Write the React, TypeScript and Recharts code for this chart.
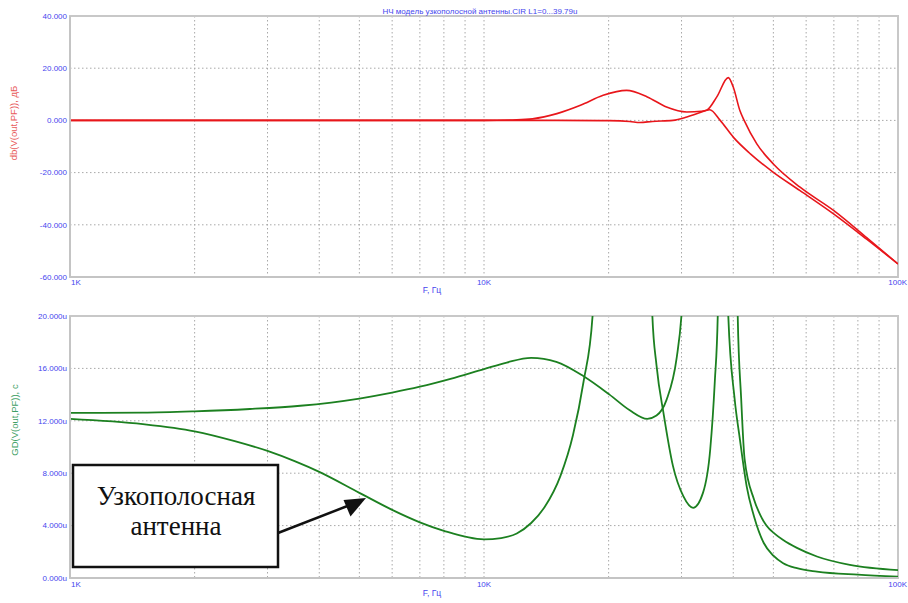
import React from "react";
import { LineChart, Line, XAxis, YAxis, CartesianGrid, ReferenceArea } from "recharts";

// ---------- shared x axis ----------
const freqTicks = [
  1000, 2000, 3000, 4000, 5000, 6000, 7000, 8000, 9000,
  10000, 20000, 30000, 40000, 50000, 60000, 70000, 80000, 90000, 100000,
];
const freqLabels: Record<number, string> = { 1000: "1K", 10000: "10K", 100000: "100K" };

// ---------- top plot: db(V(out,PF)) ----------
const dbTicks = [-60, -40, -20, 0, 20, 40];
const fTop1 = [1000, 5000, 10000, 15000, 20000, 22500, 23800, 25500, 28600, 30900, 33000, 35100, 37200, 40000, 44000, 50000, 58000, 70000, 84000, 100000];
const dbTop1 = [0, 0, 0, 0, -0.1, -0.4, -0.8, -0.4, 0, 1.3, 2.8, 4.1, 0, -6.4, -12.8, -19.9, -26.9, -35.9, -45.5, -55.0];
const fTop2 = [1000, 5000, 10000, 12000, 13100, 15000, 17100, 19400, 22100, 24800, 27600, 30900, 33500, 34500, 36500, 38900, 40000, 41500, 42500, 45600, 50000, 58000, 70000, 84000, 100000];
const dbTop2 = [0, 0, 0, 0.2, 0.6, 2.6, 5.8, 9.6, 11.5, 9.0, 5.1, 3.2, 3.5, 3.9, 9.0, 16.4, 12.8, 3.8, 0, -9, -16.7, -25.6, -34.6, -44.9, -55.0];

// ---------- bottom plot: GD(V(out,PF)), microseconds ----------
const gdTicks = [0, 4, 8, 12, 16, 20];
const fGd1 = [1000, 1500, 2000, 2720, 3600, 5000, 6000, 7000, 8300, 10000, 11350, 13000, 14950, 17400, 20100, 22500, 24800, 26100, 27600, 29200, 30000, 30500];
const gd1 = [12.6, 12.62, 12.72, 12.9, 13.15, 13.7, 14.15, 14.6, 15.2, 15.95, 16.45, 16.8, 16.5, 15.4, 14.0, 12.8, 12.15, 12.4, 13.6, 16.8, 20.1, 24];
const fGd2 = [1000, 1500, 2000, 2500, 3000, 3500, 4000, 5000, 6000, 7000, 8000, 10000, 11000, 12000, 13000, 14000, 15300, 16400, 17400, 18300, 18600];
const gd2 = [12.15, 11.75, 11.2, 10.45, 9.7, 8.9, 8.1, 6.5, 5.2, 4.25, 3.6, 2.95, 3.05, 3.4, 4.2, 5.4, 7.8, 10.9, 15.0, 20.1, 24];
const fGd3 = [25300, 25500, 26100, 27200, 28600, 30300, 32000, 33800, 35200, 36100, 36700, 36900];
const gd3 = [24, 20.1, 16.25, 12.4, 8.56, 6.25, 5.36, 6.5, 9.85, 15.0, 20.1, 24];
const fGd4 = [38700, 38900, 40300, 41500, 43100, 44900, 47400, 50000, 52800, 57000, 63700, 80000, 100000];
const gd4 = [24, 20.1, 13.7, 10.6, 7.0, 4.7, 2.67, 1.7, 1.13, 0.75, 0.49, 0.25, 0.1];
const fGd5 = [40800, 41000, 41800, 42600, 44900, 46500, 48100, 50500, 52800, 57000, 63700, 76500, 100000];
const gd5 = [24, 20.1, 13.7, 9.1, 6.0, 4.8, 4.0, 3.35, 2.9, 2.3, 1.64, 1.0, 0.6];

const zip = (f: number[], v: number[]) => f.map((x, i) => ({ f: x, v: v[i] }));

const FONT = "Arial, 'Liberation Sans', sans-serif";
const BLUE = "#4545ee";
const RED = "#e8161b";
const GREEN = "#1c8020";

const XTick = (props: any) => {
  const { x, y, payload } = props;
  const v = payload.value;
  const lab = freqLabels[v];
  if (!lab) return <g />;
  const anchor = v === 1000 ? "start" : v === 100000 ? "end" : "middle";
  const dx = v === 1000 ? 1 : v === 100000 ? 9 : 0;
  return (
    <text x={x + dx} y={y} dy="0.71em" textAnchor={anchor} fontSize={8} fontFamily={FONT} fill={BLUE}>
      {lab}
    </text>
  );
};

const gridProps = { stroke: "#a8a8a8", strokeDasharray: "1.5 2.5", strokeWidth: 1 };

export default function App() {
  const d1 = zip(fTop1, dbTop1);
  const d2 = zip(fTop2, dbTop2);
  return (
    <div style={{ position: "absolute", left: 0, top: 0, width: 908, height: 603, background: "#fff", overflow: "hidden" }}>
      <div style={{ position: "absolute", left: 0, top: 0 }}>
        <LineChart width={908} height={300} margin={{ top: 16, right: 10, bottom: 0, left: 8 }}>
          <CartesianGrid {...gridProps} />
          <XAxis
            dataKey="f"
            type="number"
            scale="log"
            domain={[1000, 100000]}
            ticks={freqTicks}
            interval={0}
            height={23}
            tickSize={0}
            tickMargin={2}
            tickLine={false}
            axisLine={{ stroke: "#c4c4c4", strokeWidth: 2 }}
            tick={<XTick />}
            allowDataOverflow
          />
          <YAxis
            type="number"
            domain={[-60, 40]}
            ticks={dbTicks}
            interval={0}
            width={62}
            tickSize={0}
            tickMargin={3}
            tickLine={false}
            axisLine={{ stroke: "#c4c4c4", strokeWidth: 2 }}
            tick={{ fontSize: 8, fontFamily: FONT, fill: BLUE }}
            tickFormatter={(v: number) => v.toFixed(3)}
            allowDataOverflow
          />
          <ReferenceArea x1={1000} x2={100000} y1={-60} y2={40} fill="none" stroke="#c8c8c8" strokeWidth={2} ifOverflow="visible" />
          <Line data={d1} dataKey="v" type="monotone" stroke={RED} strokeWidth={1.6} dot={false} isAnimationActive={false} />
          <Line data={d2} dataKey="v" type="monotone" stroke={RED} strokeWidth={1.6} dot={false} isAnimationActive={false} />
        </LineChart>
      </div>
      <div style={{ position: "absolute", left: 0, top: 300 }}>
        <LineChart width={908} height={303} margin={{ top: 16, right: 10, bottom: 0, left: 8 }}>
          <CartesianGrid {...gridProps} />
          <XAxis
            dataKey="f"
            type="number"
            scale="log"
            domain={[1000, 100000]}
            ticks={freqTicks}
            interval={0}
            height={25}
            tickSize={0}
            tickMargin={3}
            tickLine={false}
            axisLine={{ stroke: "#c4c4c4", strokeWidth: 2 }}
            tick={<XTick />}
            allowDataOverflow
          />
          <YAxis
            type="number"
            domain={[0, 20]}
            ticks={gdTicks}
            interval={0}
            width={62}
            tickSize={0}
            tickMargin={3}
            tickLine={false}
            axisLine={{ stroke: "#c4c4c4", strokeWidth: 2 }}
            tick={{ fontSize: 8, fontFamily: FONT, fill: BLUE }}
            tickFormatter={(v: number) => `${v.toFixed(3)}u`}
            allowDataOverflow
          />
          <ReferenceArea x1={1000} x2={100000} y1={0} y2={20} fill="none" stroke="#c8c8c8" strokeWidth={2} ifOverflow="visible" />
          <Line data={zip(fGd1, gd1)} dataKey="v" type="monotone" stroke={GREEN} strokeWidth={1.8} dot={false} isAnimationActive={false} />
          <Line data={zip(fGd2, gd2)} dataKey="v" type="monotone" stroke={GREEN} strokeWidth={1.8} dot={false} isAnimationActive={false} />
          <Line data={zip(fGd3, gd3)} dataKey="v" type="monotone" stroke={GREEN} strokeWidth={1.8} dot={false} isAnimationActive={false} />
          <Line data={zip(fGd4, gd4)} dataKey="v" type="monotone" stroke={GREEN} strokeWidth={1.8} dot={false} isAnimationActive={false} />
          <Line data={zip(fGd5, gd5)} dataKey="v" type="monotone" stroke={GREEN} strokeWidth={1.8} dot={false} isAnimationActive={false} />
        </LineChart>
      </div>
      <svg width={908} height={603} style={{ position: "absolute", left: 0, top: 0, pointerEvents: "none" }}>
        <text x={480} y={14} textAnchor="middle" fontSize={8} fontFamily={FONT} fill={BLUE}>
          НЧ модель узкополосной антенны.CIR L1=0...39.79u
        </text>
        <text transform="translate(17,123) rotate(-90)" textAnchor="middle" fontSize={9.5} fontFamily={FONT} fill="#e85a5a">
          db(V(out,PF)), дБ
        </text>
        <text transform="translate(18,420) rotate(-90)" textAnchor="middle" fontSize={9.5} fontFamily={FONT} fill="#3f9f66">
          GD(V(out,PF)), c
        </text>
        <text x={432} y={293} textAnchor="middle" fontSize={8.5} fontFamily={FONT} fill={BLUE}>F, Гц</text>
        <text x={432} y={596} textAnchor="middle" fontSize={8.5} fontFamily={FONT} fill={BLUE}>F, Гц</text>
        <rect x={73} y={465} width={205} height={102} fill="#fff" stroke="#111" strokeWidth={2.5} />
        <text x={176} y={505} textAnchor="middle" fontSize={27} fontFamily="'Liberation Serif', 'Times New Roman', serif" fill="#111">Узкополосная</text>
        <text x={176} y={535} textAnchor="middle" fontSize={27} fontFamily="'Liberation Serif', 'Times New Roman', serif" fill="#111">антенна</text>
        <line x1={278} y1={533} x2={350} y2={505} stroke="#111" strokeWidth={2.5} />
        <polygon points="366,498 343.5,500 350.5,516.5" fill="#111" />
      </svg>
    </div>
  );
}
